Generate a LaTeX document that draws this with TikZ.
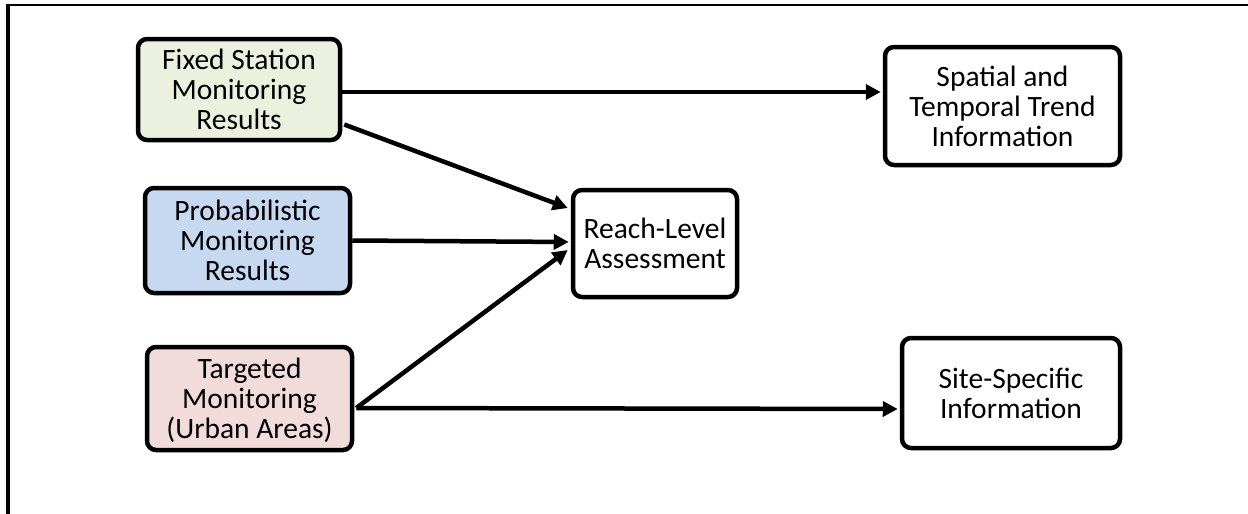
\documentclass[tikz,border=0pt]{standalone}
\usepackage{fontspec}
\setmainfont{Carlito}
\usetikzlibrary{arrows.meta,calc}
\definecolor{fgreen}{RGB}{235,241,222}
\definecolor{fblue}{RGB}{198,217,241}
\definecolor{fpink}{RGB}{242,220,219}
\newcommand\boxtxt[1]{\raisebox{-4pt}[\height][\depth]{\begin{tabular}{@{}c@{}}#1\end{tabular}}}
\begin{document}
\begin{tikzpicture}[x=1pt,y=-1pt,
  box/.style={draw=black,line width=4.5pt,rounded corners=9pt,
    font=\fontsize{29.5}{30}\selectfont,inner sep=0pt},
  conn/.style={line width=4.5pt,-{Triangle[length=15pt,width=15pt]}}]
\useasboundingbox (0,0) rectangle (1248,514);
\fill[white] (0,0) rectangle (1248,514);
\draw[line width=2.5pt] (8,5) -- (1248,5);
\draw[line width=3.5pt] (8,4) -- (8,514);
\node[box,fill=fgreen,minimum width=202pt,minimum height=101pt] (fixed) at (239,89.5) {\boxtxt{Fixed Station\\Monitoring\\Results}};
\node[box,fill=fblue,minimum width=205pt,minimum height=105pt] (prob) at (247.5,240.5) {\boxtxt{Probabilistic\\Monitoring\\Results}};
\node[box,fill=fpink,minimum width=205pt,minimum height=103pt] (targ) at (249.5,398.5) {\boxtxt{Targeted\\Monitoring\\(Urban Areas)}};
\node[box,fill=white,minimum width=164pt,minimum height=107pt] (reach) at (655,243.5) {\boxtxt{Reach-Level\\Assessment}};
\node[box,fill=white,minimum width=235pt,minimum height=118pt] (spat) at (1002.5,106) {\boxtxt{Spatial and\\Temporal Trend\\Information}};
\node[box,fill=white,minimum width=218pt,minimum height=110pt] (site) at (1011,393) {\boxtxt{Site-Specific\\Information}};
\draw[conn] ([yshift=-2.5pt]fixed.east) -- ([xshift=-2pt,yshift=14pt]spat.west);
\draw[conn] ([xshift=2pt,yshift=-35pt]fixed.east) -- ([xshift=-3pt,yshift=35.5pt]reach.west);
\draw[conn] (prob.east) -- ([xshift=-2pt,yshift=1.5pt]reach.west);
\draw[conn] ([xshift=2pt,yshift=-9.5pt]targ.east) -- ([xshift=-3pt,yshift=-6.5pt]reach.west);
\draw[conn] ([xshift=2pt,yshift=-9.5pt]targ.east) -- ([xshift=-2pt,yshift=-16pt]site.west);
\end{tikzpicture}
\end{document}
